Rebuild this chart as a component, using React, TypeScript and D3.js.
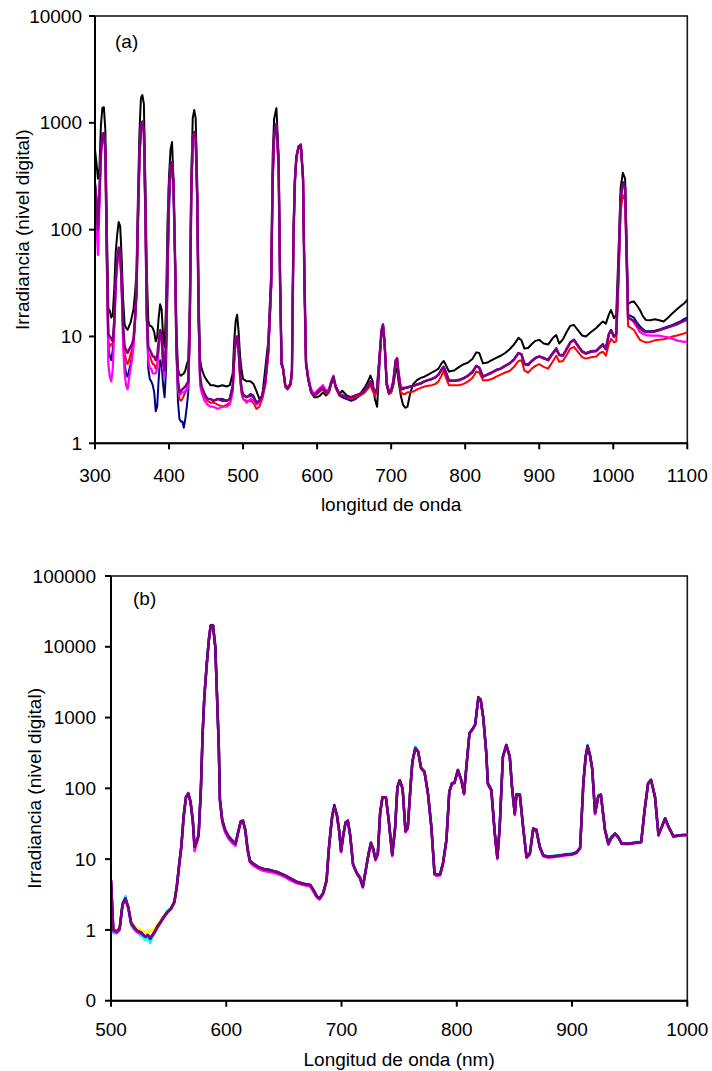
import React from "react";
import * as d3 from "d3";

// ---------- Panel (a): 300-1100 nm, five spectra on a shared wavelength grid ----------
const aWavelengths = [
  300, 302, 304, 306, 308, 310, 312, 314, 316, 318,
  320, 322, 324, 326, 328, 330, 332, 334, 336, 338,
  340, 342, 344, 346, 348, 350, 352, 354, 356, 358,
  360, 362, 364, 366, 368, 370, 372, 374, 376, 378,
  380, 382, 384, 386, 388, 390, 392, 394, 396, 398,
  400, 402, 404, 406, 408, 410, 412, 414, 416, 418,
  420, 422, 424, 426, 428, 430, 432, 434, 436, 438,
  440, 442, 444, 448, 452, 456, 460, 466, 472, 478,
  482, 486, 488, 490, 492, 494, 496, 498, 500, 505,
  510, 514, 518, 522, 526, 530, 534, 538, 540, 542,
  545, 548, 550, 552, 554, 557, 560, 564, 566, 568,
  570, 572, 575, 578, 581, 583, 585, 588, 592, 596,
  600, 604, 608, 612, 616, 619, 622, 625, 630, 634,
  640, 646, 652, 658, 664, 668, 672, 675, 678, 681,
  684, 687, 689, 691, 694, 697, 700, 703, 706, 708,
  710, 713, 716, 719, 722, 726, 730, 735, 740, 745,
  750, 755, 760, 764, 768, 771, 774, 778, 785, 792,
  798, 804, 810, 815, 819, 824, 830, 836, 842, 848,
  854, 860, 866, 872, 876, 880, 885, 890, 895, 900,
  906, 912, 918, 923, 927, 932, 937, 942, 947, 952,
  958, 963, 970, 977, 982, 986, 990, 994, 997, 1001,
  1004, 1007, 1010, 1013, 1016, 1018, 1020, 1024, 1028, 1032,
  1036, 1040, 1044, 1050, 1056, 1062, 1068, 1074, 1080, 1086,
  1092, 1096, 1100,
];

const aBlack = [
  560, 420, 300, 380, 950, 1380, 1400, 850, 110, 18,
  17.5, 15, 16, 28, 62, 90, 118, 108, 55, 22,
  13, 12, 11.5, 12.5, 13.5, 15.5, 18, 25, 40, 200,
  800, 1700, 1820, 1500, 300, 40, 14, 12.5, 12.5, 12,
  11, 9, 10, 15, 20, 18, 10, 8, 20, 120,
  320, 560, 660, 300, 60, 12, 5, 4.4, 4.3, 4.4,
  4.5, 4.8, 5.5, 6, 20, 300, 1100, 1320, 1100, 300,
  25, 6, 5, 4.2, 3.8, 3.5, 3.5, 3.4, 3.5, 3.4,
  3.5, 4.5, 9, 14, 16, 11, 6.5, 4.8, 4, 3.8,
  3.8, 3.6, 3.1, 2.6, 2.8, 5, 9, 40, 500, 1100,
  1370, 500, 40, 6, 5, 3.5, 3.3, 3.6, 5, 100,
  300, 480, 600, 630, 300, 30, 5.6, 4, 3, 2.7,
  2.7, 2.8, 3.0, 2.8, 3.0, 3.6, 4.1, 3.4, 2.9, 3.1,
  2.8, 2.7, 2.8, 2.9, 3.3, 3.7, 4.3, 3.8, 2.6, 2.2,
  5, 11, 13, 9, 3.5, 2.9, 3.0, 3.5, 4.8, 5.0,
  3.8, 2.8, 2.3, 2.15, 2.2, 3.0, 3.6, 3.9, 4.1, 4.2,
  4.4, 4.6, 4.8, 5.0, 5.6, 5.9, 5.4, 4.7, 4.8, 5.2,
  5.5, 5.7, 6.2, 7.1, 7.0, 5.6, 5.7, 6.0, 6.3, 6.6,
  7.0, 7.6, 8.4, 9.7, 9.2, 7.7, 7.8, 8.5, 9.1, 9.3,
  8.6, 8.4, 9.6, 10.3, 8.6, 9.4, 11, 12.6, 12.8, 11.5,
  10.2, 10.0, 11.0, 12, 13, 13.8, 13.2, 16, 17.7, 14.8,
  16, 60, 250, 340, 300, 80, 20, 21, 21.2, 19.5,
  17.7, 15.5, 14.3, 14.2, 14.5, 14.2, 13.8, 15, 16.5, 18,
  19.5, 20.5, 22,
];

const aNavy = [
  280, 200, 110, 220, 550, 780, 800, 560, 60, 8,
  6.5, 6, 7.5, 14, 36, 52, 66, 62, 32, 11,
  5.5, 4.5, 4.2, 4.8, 5.5, 6.5, 8.5, 14, 25, 120,
  450, 900, 1000, 800, 150, 15, 5, 4, 3.8, 3.5,
  3, 2, 2.2, 4, 6, 5.5, 3.5, 2.7, 5, 30,
  150, 330, 420, 250, 60, 8, 2.5, 1.7, 1.6, 1.6,
  1.4, 1.7, 2.2, 3, 12, 200, 700, 800, 700, 200,
  15, 4, 3.2, 2.8, 2.6, 2.6, 2.5, 2.6, 2.6, 2.5,
  2.6, 3.5, 6, 9, 10, 7.5, 4.5, 3.2, 2.9, 2.7,
  2.9, 2.8, 2.4, 2.5, 2.8, 3.8, 7, 30, 300, 750,
  950, 400, 30, 5.5, 5, 3.4, 3.2, 3.5, 4.5, 80,
  280, 470, 590, 620, 300, 30, 5.6, 4, 3, 2.8,
  2.9, 3.1, 3.2, 2.9, 3.1, 3.7, 4.2, 3.4, 2.8, 2.7,
  2.6, 2.5, 2.6, 2.8, 3.0, 3.3, 3.7, 3.3, 2.9, 3.2,
  6, 11, 12.5, 9, 3.6, 3.0, 3.1, 3.8, 5.8, 6.2,
  4.5, 3.2, 3.2, 3.3, 3.3, 3.4, 3.45, 3.55, 3.6, 3.8,
  3.9, 4.0, 4.15, 4.4, 4.9, 5.2, 4.6, 3.9, 3.85, 3.95,
  4.1, 4.3, 4.6, 5.3, 5.1, 4.2, 4.4, 4.6, 4.85, 5.0,
  5.3, 5.6, 6.1, 7.0, 6.8, 5.6, 5.5, 5.9, 6.3, 6.5,
  6.2, 6.1, 7.0, 7.8, 6.8, 6.7, 7.6, 8.8, 9.3, 8.3,
  7.3, 7.0, 7.3, 7.4, 8.0, 8.5, 7.8, 10.5, 11.5, 10,
  10.5, 40, 200, 280, 250, 60, 16, 15.5, 15, 13.5,
  12.5, 11.7, 11.2, 11.2, 11.3, 11.6, 12, 12.4, 12.8, 13.4,
  14, 14.6, 15,
];

const aRed = [
  260, 180, 100, 210, 520, 760, 780, 560, 55, 9,
  8, 8.5, 8.5, 13, 32, 50, 64, 60, 30, 12,
  7, 6, 5.5, 6, 6.8, 7.5, 9, 14, 25, 120,
  450, 920, 1000, 850, 150, 15, 7, 6.5, 6, 5.5,
  5.5, 5, 5.5, 8, 11, 10, 5.5, 4.5, 8, 50,
  220, 380, 420, 260, 60, 8, 3.5, 2.6, 2.5, 2.6,
  2.8, 3.0, 3.2, 3.5, 12, 200, 700, 800, 700, 200,
  15, 4, 3.2, 2.7, 2.5, 2.4, 2.4, 2.3, 2.2, 2.3,
  2.4, 3.2, 6, 9, 10, 7, 4, 2.9, 2.6, 2.5,
  2.5, 2.4, 2.1, 2.2, 2.6, 3.5, 7, 30, 300, 750,
  950, 400, 30, 5.5, 5, 3.4, 3.2, 3.5, 4.5, 80,
  280, 470, 590, 620, 300, 30, 5.6, 4, 3, 2.8,
  2.9, 3.1, 3.2, 2.9, 3.0, 3.6, 4.1, 3.3, 2.8, 2.8,
  2.7, 2.6, 2.7, 2.8, 3.0, 3.2, 3.5, 3.1, 2.8, 3.0,
  6, 11, 12.5, 9, 3.5, 2.9, 3.0, 3.6, 5.6, 6.0,
  4.4, 3.0, 2.9, 2.9, 3.0, 3.0, 3.05, 3.2, 3.3, 3.4,
  3.45, 3.5, 3.6, 3.8, 4.3, 4.8, 4.1, 3.5, 3.5, 3.5,
  3.6, 3.8, 4.1, 4.7, 4.6, 3.9, 3.9, 4.0, 4.2, 4.4,
  4.6, 4.75, 5.2, 5.9, 6.0, 4.8, 4.6, 5.0, 5.3, 5.5,
  5.2, 5.0, 5.8, 6.6, 5.8, 5.9, 6.7, 7.7, 8.0, 7.2,
  6.4, 6.2, 6.4, 6.5, 7.0, 7.2, 6.6, 8.5, 9.5, 8.8,
  9, 30, 150, 210, 190, 50, 12.5, 12, 11.5, 10.3,
  9.3, 9.0, 8.8, 8.9, 9.2, 9.3, 9.4, 9.6, 10, 10.2,
  10.5, 10.7, 11,
];

const aMagenta = [
  200, 110, 58, 160, 480, 730, 760, 560, 50, 5.5,
  4.2, 3.8, 5, 11, 28, 46, 62, 58, 28, 8,
  4.5, 3.5, 3.2, 4, 5, 6, 8, 13, 25, 120,
  450, 920, 1000, 850, 150, 14, 6, 5, 5, 4.5,
  4.5, 4.5, 5, 7.5, 11, 10, 5, 4.2, 8, 50,
  220, 380, 420, 260, 55, 7, 3.2, 2.8, 2.9, 3.0,
  3.0, 3.1, 3.2, 3.4, 12, 200, 700, 800, 700, 200,
  15, 3.5, 3.0, 2.5, 2.3, 2.2, 2.2, 2.1, 2.2, 2.2,
  2.3, 3.0, 6, 9.5, 10, 7.5, 4.2, 3.0, 2.6, 2.4,
  2.6, 2.5, 2.3, 2.4, 2.7, 3.6, 7, 30, 300, 750,
  950, 400, 30, 5.5, 5, 3.5, 3.3, 3.6, 4.5, 80,
  280, 470, 590, 620, 300, 32, 6, 4.2, 3.2, 2.9,
  3.1, 3.3, 3.5, 3.1, 3.2, 3.8, 4.3, 3.5, 2.9, 2.8,
  2.7, 2.7, 2.8, 2.9, 3.1, 3.4, 3.8, 3.4, 3.0, 3.3,
  6, 11.5, 13, 9, 3.7, 3.1, 3.2, 3.9, 6.0, 6.3,
  4.6, 3.3, 3.3, 3.3, 3.35, 3.4, 3.45, 3.55, 3.65, 3.8,
  3.9, 4.0, 4.15, 4.4, 4.9, 5.2, 4.6, 3.85, 3.85, 3.9,
  4.05, 4.3, 4.7, 5.3, 5.1, 4.2, 4.4, 4.6, 4.85, 5.0,
  5.3, 5.6, 6.1, 7.0, 6.8, 5.5, 5.4, 5.9, 6.3, 6.5,
  6.3, 6.0, 6.9, 7.6, 6.7, 6.6, 7.6, 8.8, 9.3, 8.2,
  7.2, 6.9, 7.2, 7.3, 7.9, 8.3, 7.6, 10.5, 11.5, 9.8,
  10.5, 40, 190, 260, 240, 60, 15, 14.5, 13.5, 12.2,
  11, 10.6, 10.3, 10.2, 10.2, 10.2, 10.0, 9.8, 9.5, 9.2,
  9.0, 8.9, 9,
];

const aPurple = [
  260, 180, 100, 220, 540, 790, 800, 570, 60, 10.5,
  10, 9.5, 9, 14, 34, 52, 68, 63, 32, 12.5,
  8, 7.5, 7, 7.5, 8, 8.5, 9.5, 14.5, 26, 125,
  470, 960, 1030, 860, 160, 16, 8, 7.5, 7, 6.5,
  6.5, 6, 6.5, 9, 11.5, 10.5, 6, 4.8, 9, 55,
  250, 400, 430, 270, 60, 8, 4, 3, 3.1, 3.2,
  3.3, 3.4, 3.6, 3.8, 13, 210, 720, 820, 720, 210,
  15, 4.2, 3.4, 2.9, 2.6, 2.6, 2.5, 2.6, 2.5, 2.5,
  2.6, 3.4, 6.5, 9.5, 10, 7.5, 4.5, 3.2, 2.8, 2.7,
  2.8, 2.7, 2.4, 2.5, 2.8, 3.8, 7.5, 32, 320, 780,
  980, 410, 32, 5.5, 5, 3.5, 3.3, 3.6, 4.6, 80,
  290, 480, 600, 620, 300, 30, 5.6, 4, 3, 2.8,
  3.0, 3.2, 3.3, 3.0, 3.1, 3.7, 4.2, 3.4, 2.9, 2.8,
  2.7, 2.7, 2.8, 2.9, 3.1, 3.4, 3.8, 3.4, 3.0, 3.2,
  6, 11.5, 12.8, 9, 3.6, 3.0, 3.1, 3.8, 5.9, 6.2,
  4.5, 3.2, 3.3, 3.3, 3.35, 3.4, 3.45, 3.55, 3.65, 3.8,
  3.9, 4.0, 4.15, 4.4, 4.9, 5.2, 4.6, 3.85, 3.85, 3.9,
  4.05, 4.3, 4.7, 5.3, 5.1, 4.2, 4.4, 4.6, 4.85, 5.0,
  5.3, 5.6, 6.1, 7.0, 6.8, 5.5, 5.4, 5.9, 6.3, 6.5,
  6.3, 6.0, 6.9, 7.6, 6.7, 6.6, 7.6, 8.8, 9.3, 8.2,
  7.2, 6.9, 7.2, 7.3, 7.9, 8.3, 7.6, 10.5, 11.5, 10,
  10.5, 40, 200, 271, 250, 60, 15, 14.5, 14, 12.8,
  11.9, 11.3, 11.0, 11.0, 11.1, 11.4, 11.8, 12.2, 12.6, 13.0,
  13.6, 14.0, 14.4,
];

const aXTicks = [300, 400, 500, 600, 700, 800, 900, 1000, 1100];
const aYTicks = [1, 10, 100, 1000, 10000];

// ---------- Panel (b): 500-1000 nm, five nearly coincident spectra ----------
const bWavelengths = [
  500, 502, 505, 507.5, 510, 512.5, 515, 517.5, 520, 522,
  524, 526, 528, 530, 532, 534, 536, 538, 540, 543,
  546, 549, 552, 555, 557, 559, 561, 563, 565, 567,
  569, 571, 572.5, 574, 576, 578, 579.5, 581, 583, 585,
  586.5, 588.5, 590.5, 592, 593.5, 594.5, 596.5, 599, 602, 605,
  608, 610.5, 612.5, 614.5, 616.5, 618.5, 620.5, 624, 628, 633,
  638, 644, 650, 656, 661, 667, 673, 676, 678.5, 681,
  684, 687, 689, 690.5, 692, 693.8, 696, 698, 699.6, 701.5,
  703.5, 705.5, 707.5, 710, 713, 716, 718.5, 721, 723.5, 725.5,
  727.5, 729.5, 731.5, 733.5, 735.5, 738.5, 741, 744, 746.5, 748.5,
  750.5, 753, 755.5, 757.5, 760, 761.5, 764, 766.5, 769, 772,
  775, 778, 780.7, 783, 785.5, 788, 791, 793.5, 795.8, 798,
  801, 804, 806.3, 808.3, 811, 814, 816, 818.7, 820.7, 823,
  825.5, 827, 830, 833, 835.2, 837.2, 840, 843, 846, 847.8,
  850.3, 851.8, 854.7, 857.6, 860.5, 863.4, 866.3, 869, 872, 875,
  879, 884, 890, 895, 900, 904, 907, 909.8, 911.8, 913.5,
  915.5, 917.5, 920, 922.8, 925, 928.6, 931.5, 934, 937.3, 940,
  943, 948, 952, 956, 960, 963, 966, 968.5, 972, 975,
  978, 980.8, 983.6, 988, 992, 996, 1000,
];

const bYellow = [
  5.3, 0.95, 1.0, 1.1, 2.3, 2.7, 2.1, 1.3, 1.15, 1.05,
  1.05, 1.0, 0.95, 0.9, 1.0, 0.95, 1.0, 1.05, 1.2, 1.35,
  1.6, 1.85, 2.1, 2.6, 4.0, 8, 15, 40, 75, 85,
  65, 35, 15, 17, 22, 100, 600, 2000, 5500, 13000,
  20000, 20000, 10000, 2000, 400, 70, 36, 26, 21, 18.5,
  16.5, 25, 34, 35, 26, 14, 9.5, 8.5, 7.7, 7.2,
  7.0, 6.6, 6.0, 5.3, 4.8, 4.5, 4.3, 3.6, 3.0, 2.8,
  3.3, 5.0, 14, 25, 42, 55, 42, 25, 13, 22,
  33, 35, 22, 8.5, 6.5, 5.5, 4.1, 7, 12, 17,
  14, 10, 12, 45, 75, 75, 35, 11.5, 28, 105,
  130, 100, 25, 28, 115, 240, 370, 330, 195, 172,
  85, 28, 6.3, 6.0, 6.1, 8.7, 18.6, 90, 118, 120,
  182, 130, 85, 200, 600, 700, 800, 1900, 1800, 1000,
  330, 118, 95, 23, 10.5, 28, 280, 410, 280, 110,
  44, 82, 82, 28, 10.8, 12, 27, 26, 15, 11.4,
  10.8, 11.0, 11.3, 11.6, 11.8, 12.5, 14.5, 118, 280, 390,
  300, 190, 45, 78, 82, 26, 16.5, 20, 23, 20.7,
  16.7, 16, 16.5, 17, 17.5, 50, 118, 132, 76, 21,
  29, 37.7, 29, 21, 21.5, 22, 22,
];

const bCyan = [
  4.6, 0.9, 0.9, 1.0, 2.4, 3.0, 2.0, 1.15, 1.0, 0.95,
  0.88, 0.82, 0.78, 0.72, 0.8, 0.65, 0.8, 0.9, 1.05, 1.3,
  1.55, 1.85, 2.05, 2.5, 4.0, 8, 15, 40, 75, 87,
  65, 35, 15, 17, 22, 100, 600, 2000, 5500, 13000,
  20000, 20500, 10000, 2000, 400, 70, 36, 26, 21, 18.5,
  16.5, 25, 34, 35, 26, 14, 9.5, 8.5, 7.7, 7.2,
  7.0, 6.6, 6.0, 5.3, 4.8, 4.5, 4.3, 3.5, 2.9, 2.8,
  3.3, 5.0, 14, 25, 42, 55, 42, 25, 13, 22,
  33, 35, 22, 8.5, 6.5, 5.5, 3.9, 7, 12, 17,
  14, 10, 12, 45, 75, 75, 35, 11.5, 28, 105,
  130, 100, 25, 28, 115, 240, 390, 330, 195, 172,
  85, 28, 6.0, 5.9, 6.1, 8.7, 18.6, 90, 118, 120,
  182, 130, 85, 200, 600, 700, 800, 1900, 1800, 1000,
  330, 118, 95, 23, 10.5, 28, 280, 410, 280, 110,
  44, 84, 82, 28, 10.8, 12, 27, 26, 15, 11.4,
  10.8, 11.2, 11.5, 11.8, 12.0, 12.7, 14.5, 118, 280, 410,
  300, 190, 45, 80, 82, 26, 16.5, 21, 23, 20.7,
  16.7, 16.8, 17, 17.5, 17.8, 50, 118, 132, 76, 22,
  29, 37.7, 29, 21, 21.5, 22, 22,
];

const bMagenta = [
  5.0, 0.95, 0.9, 1.0, 2.2, 2.7, 2.0, 1.2, 1.05, 0.95,
  0.92, 0.88, 0.85, 0.8, 0.82, 0.78, 0.82, 0.92, 1.05, 1.25,
  1.5, 1.75, 1.95, 2.4, 3.9, 7.5, 14.5, 38, 72, 82,
  62, 33, 13, 16, 21, 95, 590, 1950, 5400, 12800,
  19800, 19800, 9800, 1950, 390, 65, 33, 24, 19.5, 17,
  15.5, 24, 33, 34, 25, 13, 9, 8, 7.3, 6.8,
  6.6, 6.2, 5.7, 5.0, 4.6, 4.3, 4.1, 3.4, 2.9, 2.7,
  3.2, 4.8, 13.5, 24, 41, 54, 41, 24, 12.5, 21,
  32, 34, 21, 8.2, 6.3, 5.3, 4.0, 6.8, 11.5, 16,
  13.5, 9.6, 11.5, 44, 74, 74, 34, 11, 27, 103,
  128, 98, 24, 27, 113, 236, 360, 325, 190, 168,
  83, 27, 6.0, 5.8, 5.9, 8.4, 18, 88, 116, 118,
  178, 126, 82, 196, 590, 690, 790, 1880, 1780, 980,
  320, 112, 92, 22, 10, 27, 275, 400, 272, 106,
  42, 80, 80, 27, 10.3, 11.6, 26, 25, 14.4, 11.0,
  10.5, 10.7, 11.0, 11.3, 11.5, 12.2, 14, 115, 275, 385,
  295, 185, 43, 76, 80, 25, 16, 19.5, 22.5, 20.2,
  16.3, 16.2, 16.5, 16.9, 17.2, 48, 116, 130, 74, 21.5,
  28.5, 37, 28.5, 20.6, 21.2, 21.7, 21.8,
];

const bNavy = [
  5.0, 1.0, 0.95, 1.05, 2.3, 2.8, 2.1, 1.25, 1.1, 1.0,
  0.95, 0.92, 0.85, 0.8, 0.85, 0.75, 0.85, 0.95, 1.1, 1.3,
  1.55, 1.8, 2.0, 2.5, 4.0, 8, 15, 40, 75, 85,
  65, 35, 15, 17, 22, 100, 600, 2000, 5500, 13000,
  20000, 20000, 10000, 2000, 400, 70, 36, 26, 21, 18.5,
  16.5, 25, 34, 35, 26, 14, 9.5, 8.5, 7.7, 7.2,
  7.0, 6.6, 6.0, 5.3, 4.8, 4.5, 4.3, 3.6, 3.0, 2.8,
  3.3, 5.0, 14, 25, 42, 58, 42, 25, 13, 22,
  33, 35, 22, 8.5, 6.5, 5.5, 4.1, 7, 12, 17,
  14, 10, 12, 45, 75, 75, 35, 11.5, 28, 105,
  130, 100, 25, 28, 115, 240, 370, 330, 195, 172,
  85, 28, 6.3, 6.0, 6.1, 8.7, 18.6, 90, 118, 120,
  182, 130, 85, 200, 600, 700, 800, 1950, 1800, 1000,
  330, 118, 95, 23, 10.5, 28, 280, 410, 280, 110,
  44, 82, 82, 28, 10.8, 12, 27, 26, 15, 11.4,
  10.8, 11.0, 11.3, 11.6, 11.8, 12.5, 14.5, 118, 280, 400,
  300, 190, 45, 78, 82, 26, 16.5, 20, 23, 20.7,
  16.7, 16.5, 16.8, 17.2, 17.5, 50, 118, 132, 76, 22,
  29, 37.7, 29, 21, 21.5, 22, 22,
];

const bPurple = [
  5.0, 1.0, 0.95, 1.05, 2.3, 2.8, 2.1, 1.25, 1.1, 1.0,
  0.95, 0.92, 0.85, 0.8, 0.85, 0.75, 0.85, 0.95, 1.1, 1.3,
  1.55, 1.8, 2.0, 2.5, 4.0, 8, 15, 40, 75, 85,
  65, 35, 15, 17, 22, 100, 600, 2000, 5500, 13000,
  20000, 20000, 10000, 2000, 400, 70, 36, 26, 21, 18.5,
  16.5, 25, 34, 35, 26, 14, 9.5, 8.5, 7.7, 7.2,
  7.0, 6.6, 6.0, 5.3, 4.8, 4.5, 4.3, 3.6, 3.0, 2.8,
  3.3, 5.0, 14, 25, 42, 55, 42, 25, 13, 22,
  33, 35, 22, 8.5, 6.5, 5.5, 4.1, 7, 12, 17,
  14, 10, 12, 45, 75, 75, 35, 11.5, 28, 105,
  130, 100, 25, 28, 115, 240, 370, 330, 195, 172,
  85, 28, 6.3, 6.0, 6.1, 8.7, 18.6, 90, 118, 120,
  182, 130, 85, 200, 600, 700, 800, 1900, 1800, 1000,
  330, 118, 95, 23, 10.5, 28, 280, 410, 280, 110,
  44, 82, 82, 28, 10.8, 12, 27, 26, 15, 11.4,
  10.8, 11.0, 11.3, 11.6, 11.8, 12.5, 14.5, 118, 280, 390,
  300, 190, 45, 78, 82, 26, 16.5, 20, 23, 20.7,
  16.7, 16.5, 16.8, 17.2, 17.5, 50, 118, 132, 76, 22,
  29, 37.7, 29, 21, 21.5, 22, 22,
];

const bXTicks = [500, 600, 700, 800, 900, 1000];
const bYTicks = [0.1, 1, 10, 100, 1000, 10000, 100000];

const FONT = "'Liberation Sans', Arial, Helvetica, sans-serif";
const FONT_SIZE = 19;
const fmt = d3.format(".0f");

type Series = { key: string; color: string; width: number; values: number[] };

type PanelProps = {
  id: string;
  left: number;
  right: number;
  top: number;
  bottom: number;
  xDomain: [number, number];
  yDomain: [number, number];
  xTicks: number[];
  yTicks: number[];
  wavelengths: number[];
  series: Series[];
  tag: string;
  tagX: number;
  tagY: number;
  yLabelX: number;
  xLabelY: number;
  xTitle: string;
  xTitleY: number;
  yTitleX: number;
};

function Panel(p: PanelProps) {
  const x = d3.scaleLinear().domain(p.xDomain).range([p.left, p.right]);
  const y = d3.scaleLog().domain(p.yDomain).range([p.bottom, p.top]);
  const line = d3
    .line<[number, number]>()
    .x((d) => x(d[0]))
    .y((d) => y(d[1]));
  const clipId = `clip-${p.id}`;
  const tickLen = 6;

  return (
    <g>
      <defs>
        <clipPath id={clipId}>
          <rect x={p.left} y={p.top} width={p.right - p.left} height={p.bottom - p.top} />
        </clipPath>
      </defs>

      {/* plot-area frame */}
      <rect
        x={p.left}
        y={p.top}
        width={p.right - p.left}
        height={p.bottom - p.top}
        fill="none"
        stroke="#1a1a1a"
        strokeWidth={1.6}
      />

      {/* spectra */}
      <g clipPath={`url(#${clipId})`}>
        {p.series.map((s) => {
          const pts: [number, number][] = p.wavelengths
            .map((w, i) => [w, s.values[i]] as [number, number])
            .filter((d) => d[1] !== undefined && d[1] > 0);
          return (
            <path
              key={s.key}
              d={line(pts) ?? ""}
              fill="none"
              stroke={s.color}
              strokeWidth={s.width}
              strokeLinejoin="round"
              strokeLinecap="round"
            />
          );
        })}
      </g>

      {/* axes */}
      <line x1={p.left} x2={p.left} y1={p.top} y2={p.bottom} stroke="#000" strokeWidth={2} />
      <line x1={p.left} x2={p.right} y1={p.bottom} y2={p.bottom} stroke="#000" strokeWidth={2} />

      {p.yTicks.map((t) => (
        <g key={`y${t}`}>
          <line x1={p.left - tickLen} x2={p.left} y1={y(t)} y2={y(t)} stroke="#000" strokeWidth={2} />
          <text
            x={p.yLabelX}
            y={y(t)}
            dy="0.35em"
            textAnchor="end"
            fontFamily={FONT}
            fontSize={FONT_SIZE}
            fill="#000"
          >
            {fmt(t)}
          </text>
        </g>
      ))}

      {p.xTicks.map((t) => (
        <g key={`x${t}`}>
          <line x1={x(t)} x2={x(t)} y1={p.bottom} y2={p.bottom + tickLen} stroke="#000" strokeWidth={2} />
          <text
            x={x(t)}
            y={p.xLabelY}
            textAnchor="middle"
            fontFamily={FONT}
            fontSize={FONT_SIZE}
            fill="#000"
          >
            {t}
          </text>
        </g>
      ))}

      <text
        x={(p.left + p.right) / 2}
        y={p.xTitleY}
        textAnchor="middle"
        fontFamily={FONT}
        fontSize={FONT_SIZE}
        fill="#000"
      >
        {p.xTitle}
      </text>

      <text
        transform={`translate(${p.yTitleX},${(p.top + p.bottom) / 2}) rotate(-90)`}
        textAnchor="middle"
        fontFamily={FONT}
        fontSize={FONT_SIZE}
        fill="#000"
      >
        Irradiancia (nivel digital)
      </text>

      <text x={p.tagX} y={p.tagY} fontFamily={FONT} fontSize={FONT_SIZE} fill="#000">
        {p.tag}
      </text>
    </g>
  );
}

export default function App() {
  const seriesA: Series[] = [
    { key: "black", color: "#000000", width: 2, values: aBlack },
    { key: "navy", color: "#000080", width: 2, values: aNavy },
    { key: "red", color: "#FF0000", width: 2, values: aRed },
    { key: "magenta", color: "#FF00FF", width: 2.2, values: aMagenta },
    { key: "purple", color: "#800080", width: 2.5, values: aPurple },
  ];
  const seriesB: Series[] = [
    { key: "yellow", color: "#FFFF00", width: 2.5, values: bYellow },
    { key: "cyan", color: "#00FFFF", width: 2.5, values: bCyan },
    { key: "magenta", color: "#FF00FF", width: 2.5, values: bMagenta },
    { key: "navy", color: "#000080", width: 2.5, values: bNavy },
    { key: "purple", color: "#800080", width: 2.5, values: bPurple },
  ];

  return (
    <svg
      width={712}
      height={1071}
      viewBox="0 0 712 1071"
      style={{ position: "absolute", left: 0, top: 0, display: "block", background: "#fff" }}
    >
      <rect x={0} y={0} width={712} height={1071} fill="#fff" />
      <Panel
        id="a"
        left={95}
        right={687.3}
        top={16}
        bottom={443.3}
        xDomain={[300, 1100]}
        yDomain={[1, 10000]}
        xTicks={aXTicks}
        yTicks={aYTicks}
        wavelengths={aWavelengths}
        series={seriesA}
        tag="(a)"
        tagX={115}
        tagY={47.5}
        yLabelX={82}
        xLabelY={482}
        xTitle="longitud de onda"
        xTitleY={510.5}
        yTitleX={29}
      />
      <Panel
        id="b"
        left={111}
        right={687.3}
        top={576}
        bottom={1000.7}
        xDomain={[500, 1000]}
        yDomain={[0.1, 100000]}
        xTicks={bXTicks}
        yTicks={bYTicks}
        wavelengths={bWavelengths}
        series={seriesB}
        tag="(b)"
        tagX={133}
        tagY={605}
        yLabelX={96}
        xLabelY={1036}
        xTitle="Longitud de onda (nm)"
        xTitleY={1065.5}
        yTitleX={40.5}
      />
    </svg>
  );
}
